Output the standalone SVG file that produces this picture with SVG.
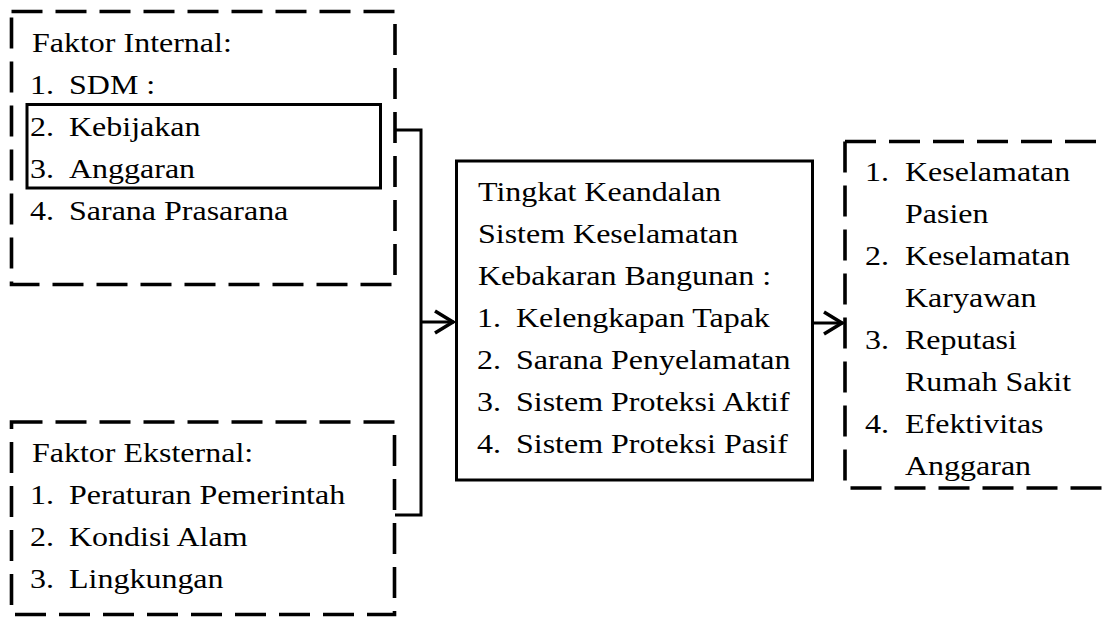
<svg xmlns="http://www.w3.org/2000/svg" width="1107" height="618" viewBox="0 0 1107 618">
<style>
.t{font-family:"Liberation Serif","Times New Roman",serif;font-size:32px;fill:#000}
.dash{fill:none;stroke:#000;stroke-width:3.6;stroke-dasharray:31 13}
.solid{fill:none;stroke:#000;stroke-width:3}
.conn{fill:none;stroke:#000;stroke-width:3}
</style>
<defs>
<marker id="arr" markerUnits="userSpaceOnUse" viewBox="-24 -14 26 28" markerWidth="26" markerHeight="28" refX="0" refY="0" orient="auto">
<path d="M-19,-11 L-1,0 L-19,11" fill="none" stroke="#000" stroke-width="3.5"/>
</marker>
</defs>
<rect width="1107" height="618" fill="#fff"/>
<g id="internal">
<rect class="dash" x="11.5" y="11.5" width="383.5" height="273"/>
<rect class="solid" x="27" y="104.5" width="353.5" height="83.5" stroke-width="2.6"/>
<text class="t" transform="translate(32,52) scale(1,0.88)">Faktor Internal:</text>
<text class="t" transform="translate(30,94) scale(1,0.88)">1.<tspan x="39">SDM :</tspan></text>
<text class="t" transform="translate(30,136) scale(1,0.88)">2.<tspan x="39">Kebijakan</tspan></text>
<text class="t" transform="translate(30,178) scale(1,0.88)">3.<tspan x="39">Anggaran</tspan></text>
<text class="t" transform="translate(30,220) scale(1,0.88)">4.<tspan x="39">Sarana Prasarana</tspan></text>
</g>
<g id="external">
<rect class="dash" x="11.5" y="422" width="383" height="192.5"/>
<text class="t" transform="translate(32,462) scale(1,0.88)">Faktor Eksternal:</text>
<text class="t" transform="translate(30,504) scale(1,0.88)">1.<tspan x="39">Peraturan Pemerintah</tspan></text>
<text class="t" transform="translate(30,546) scale(1,0.88)">2.<tspan x="39">Kondisi Alam</tspan></text>
<text class="t" transform="translate(30,588) scale(1,0.88)">3.<tspan x="39">Lingkungan</tspan></text>
</g>
<g id="central">
<rect class="solid" x="456.5" y="161" width="356" height="319" stroke-width="3.3"/>
<text class="t" transform="translate(478,201) scale(1,0.88)">Tingkat Keandalan</text>
<text class="t" transform="translate(478,243) scale(1,0.88)">Sistem Keselamatan</text>
<text class="t" transform="translate(478,285) scale(1,0.88)">Kebakaran Bangunan :</text>
<text class="t" transform="translate(477,327) scale(1,0.88)">1.<tspan x="39">Kelengkapan Tapak</tspan></text>
<text class="t" transform="translate(477,369) scale(1,0.88)">2.<tspan x="39">Sarana Penyelamatan</tspan></text>
<text class="t" transform="translate(477,411) scale(1,0.88)">3.<tspan x="39">Sistem Proteksi Aktif</tspan></text>
<text class="t" transform="translate(477,453) scale(1,0.88)">4.<tspan x="39">Sistem Proteksi Pasif</tspan></text>
</g>
<g id="outcome">
<path class="dash" d="M845,141.5 H1115"/>
<path class="dash" d="M845,141.5 V488 H1115"/>
<text class="t" transform="translate(865,181) scale(1,0.88)">1.<tspan x="40">Keselamatan</tspan></text>
<text class="t" transform="translate(905,223) scale(1,0.88)">Pasien</text>
<text class="t" transform="translate(865,265) scale(1,0.88)">2.<tspan x="40">Keselamatan</tspan></text>
<text class="t" transform="translate(905,307) scale(1,0.88)">Karyawan</text>
<text class="t" transform="translate(865,349) scale(1,0.88)">3.<tspan x="40">Reputasi</tspan></text>
<text class="t" transform="translate(905,391) scale(1,0.88)">Rumah Sakit</text>
<text class="t" transform="translate(865,433) scale(1,0.88)">4.<tspan x="40">Efektivitas</tspan></text>
<text class="t" transform="translate(905,475) scale(1,0.88)">Anggaran</text>
</g>
<g id="connectors">
<path class="conn" d="M395,130 H421 V515 H395"/>
<path class="conn" d="M421,322 H454" marker-end="url(#arr)"/>
<path class="conn" d="M812.5,323 H843" marker-end="url(#arr)"/>
</g>
</svg>
